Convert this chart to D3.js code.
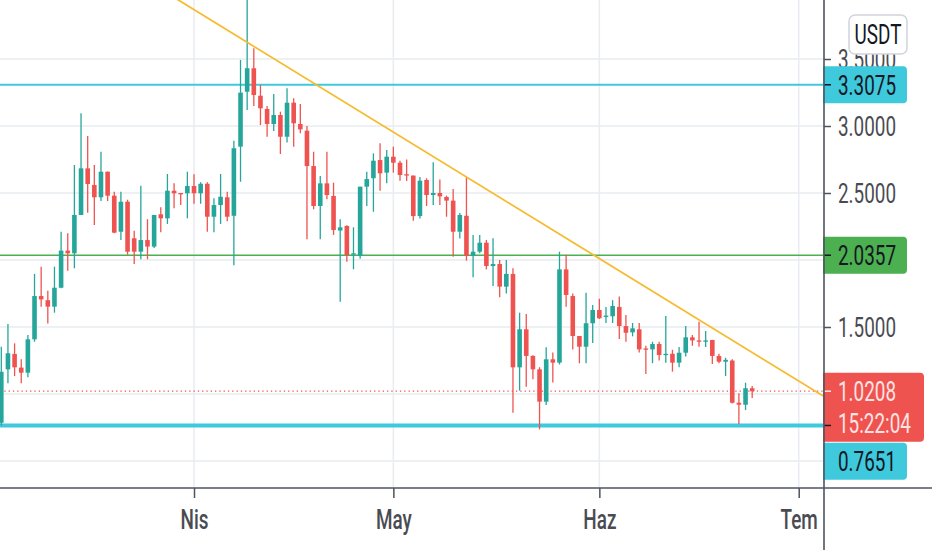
<!DOCTYPE html>
<html>
<head>
<meta charset="utf-8">
<script src="https://cdn.jsdelivr.net/npm/d3@7"></script>
<style>
  html, body { margin: 0; padding: 0; background: #fff; }
  svg { display: block; font-family: Roboto, 'Noto Sans', sans-serif; }
</style>
</head>
<body>
<div id="chart"></div>
<script>
// daily candles, first one on 3 March
const firstDay = '2021-03-03'
const opens = [0.785, 1.184, 1.299, 1.197, 1.159, 1.408, 1.731, 1.700, 1.652, 1.793,
  2.070, 2.050, 2.336, 2.684, 2.560, 2.468, 2.659, 2.480, 2.211, 2.435,
  2.162, 2.062, 2.149, 2.100, 2.341, 2.311, 2.517, 2.500, 2.498, 2.552,
  2.498, 2.569, 2.323, 2.410, 2.468, 2.330, 2.846, 3.256, 3.431, 3.226,
  3.127, 3.015, 3.082, 2.920, 3.174, 3.015, 2.965, 2.701, 2.403, 2.572,
  2.478, 2.220, 2.254, 2.040, 2.030, 2.547, 2.610, 2.746, 2.652, 2.771,
  2.726, 2.640, 2.630, 2.328, 2.597, 2.485, 2.500, 2.470, 2.443, 2.211,
  2.330, 2.030, 2.062, 2.129, 1.955, 1.970, 1.801, 1.896, 1.199, 1.483,
  1.284, 1.184, 0.943, 1.259, 1.234, 1.930, 1.731, 1.433, 1.353, 1.528,
  1.627, 1.575, 1.580, 1.650, 1.507, 1.460, 1.483, 1.340, 1.333, 1.373,
  1.290, 1.300, 1.234, 1.308, 1.423, 1.400, 1.390, 1.403, 1.284, 1.241,
  1.250, 0.935, 0.920, 1.043]
const highs = [1.353, 1.522, 1.378, 1.259, 1.440, 1.896, 1.950, 1.771, 1.950, 2.211,
  2.200, 2.709, 3.095, 2.925, 2.709, 2.808, 2.660, 2.510, 2.510, 2.450,
  2.219, 2.555, 2.304, 2.336, 2.393, 2.642, 2.572, 2.500, 2.659, 2.640,
  2.580, 2.580, 2.460, 2.642, 2.510, 2.890, 3.493, 3.950, 3.580, 3.306,
  3.149, 3.239, 3.107, 3.281, 3.207, 3.164, 3.000, 2.808, 2.627, 2.808,
  2.577, 2.304, 2.260, 2.244, 2.547, 2.659, 2.796, 2.871, 2.821, 2.846,
  2.740, 2.750, 2.630, 2.620, 2.610, 2.729, 2.600, 2.480, 2.530, 2.350,
  2.620, 2.187, 2.187, 2.150, 2.162, 2.000, 2.000, 1.938, 1.607, 1.597,
  1.290, 1.200, 1.349, 1.310, 2.062, 2.040, 1.750, 1.433, 1.756, 1.664,
  1.710, 1.650, 1.700, 1.727, 1.590, 1.530, 1.530, 1.360, 1.390, 1.390,
  1.582, 1.330, 1.350, 1.507, 1.440, 1.540, 1.470, 1.405, 1.300, 1.270,
  1.260, 1.005, 1.084, 1.060]
const lows = [0.765, 1.080, 1.134, 1.080, 1.125, 1.390, 1.652, 1.527, 1.607, 1.790,
  1.920, 1.938, 2.336, 2.353, 2.261, 2.440, 2.440, 2.200, 2.149, 2.040,
  1.970, 2.005, 2.005, 2.090, 2.207, 2.269, 2.386, 2.410, 2.311, 2.420,
  2.420, 2.211, 2.207, 2.269, 2.290, 1.960, 2.584, 3.119, 3.149, 3.007,
  2.920, 2.963, 2.791, 2.876, 2.846, 2.946, 2.154, 2.378, 2.154, 2.453,
  2.187, 1.689, 1.987, 1.931, 2.010, 2.403, 2.360, 2.517, 2.572, 2.652,
  2.592, 2.590, 2.293, 2.310, 2.403, 2.410, 2.410, 2.323, 2.025, 2.160,
  1.995, 1.871, 2.050, 1.930, 1.806, 1.722, 1.750, 0.860, 1.025, 1.054,
  1.110, 0.736, 0.918, 1.085, 1.220, 1.651, 1.333, 1.229, 1.230, 1.380,
  1.560, 1.530, 1.530, 1.410, 1.390, 1.430, 1.310, 1.149, 1.230, 1.250,
  1.233, 1.167, 1.200, 1.280, 1.360, 1.353, 1.350, 1.224, 1.230, 1.134,
  0.930, 0.776, 0.880, 0.970]
const closes = [1.166, 1.304, 1.199, 1.159, 1.408, 1.731, 1.706, 1.652, 1.793, 2.070,
  2.050, 2.336, 2.684, 2.567, 2.468, 2.659, 2.480, 2.204, 2.435, 2.062,
  2.062, 2.149, 2.100, 2.336, 2.311, 2.517, 2.498, 2.490, 2.552, 2.498,
  2.569, 2.323, 2.410, 2.472, 2.323, 2.834, 3.249, 3.431, 3.231, 3.132,
  3.015, 3.082, 2.920, 3.174, 3.020, 2.975, 2.701, 2.403, 2.572, 2.485,
  2.224, 2.244, 2.037, 2.050, 2.547, 2.604, 2.741, 2.647, 2.771, 2.726,
  2.634, 2.630, 2.328, 2.592, 2.485, 2.500, 2.475, 2.443, 2.211, 2.336,
  2.030, 2.062, 2.129, 1.955, 1.970, 1.801, 1.896, 1.199, 1.483, 1.284,
  1.184, 0.943, 1.259, 1.234, 1.930, 1.739, 1.433, 1.353, 1.528, 1.627,
  1.565, 1.585, 1.657, 1.507, 1.457, 1.490, 1.333, 1.330, 1.373, 1.291,
  1.300, 1.234, 1.308, 1.423, 1.400, 1.390, 1.400, 1.284, 1.241, 1.255,
  0.935, 0.920, 1.043, 1.0208]

const monthTicks = ['2021-04-01', '2021-05-01', '2021-06-01', '2021-07-01']
const monthNames = ['Nis', 'May', 'Haz', 'Tem']
const priceTicks = [0.5, 1.0, 1.5, 2.0, 2.5, 3.0, 3.5]
// horizontal levels drawn on the chart
const levelPrices = [3.3075, 2.0357, 0.7651]
const levelColors = ['#3fc9dd', '#4caf50', '#3fc9dd']
const levelWidths = [2, 1.5, 4]
const trendDates = ['2021-03-29', '2021-07-05']
const trendPrices = [3.96, 0.975]
const lastPrice = 1.0208
const countdown = '15:22:04'

const W = 932
const H = 550
const plotW = 824
const plotH = 488
const up = '#26a69a'
const down = '#ef5350'
const sx = 0.7 // narrow glyphs of the snapshot
const fmt = d3.format('.4f')

const parse = d3.utcParse('%Y-%m-%d')
const day0 = parse(firstDay)
const candles = opens.map((o, i) => ({
  date: d3.utcDay.offset(day0, i), o, h: highs[i], l: lows[i], c: closes[i]
}))

const x = d3.scaleUtc().domain([day0, parse('2021-07-01')]).range([1.3, 798.7])
const y = d3.scaleLinear().domain([1, 3]).range([394, 126])

// label boxes on the price axis, pushed down when they would overlap
const labels = [
  { price: levelPrices[0], fill: levelColors[0], text: '#131722', lines: [fmt(levelPrices[0])], w: 84 },
  { price: levelPrices[1], fill: levelColors[1], text: '#131722', lines: [fmt(levelPrices[1])], w: 84 },
  { price: lastPrice, fill: down, text: '#ffe3e3', lines: [fmt(lastPrice), countdown], w: 101 },
  { price: levelPrices[2], fill: levelColors[2], text: '#131722', lines: [fmt(levelPrices[2])], w: 84 }
]
let prevBottom = -Infinity
labels.forEach(lb => {
  lb.h = 37 + (lb.lines.length - 1) * 32
  lb.top = Math.max(y(lb.price) - 18.5, prevBottom + 1)
  prevBottom = lb.top + lb.h
})
const hidden = v => labels.some(lb => y(v) > lb.top - 4 && y(v) < lb.top + lb.h + 4)

const svg = d3.select('#chart').append('svg')
  .attr('width', W).attr('height', H)

svg.append('defs').append('clipPath').attr('id', 'plot')
  .append('rect').attr('width', plotW).attr('height', plotH)

// grid
svg.append('g').selectAll('line').data(priceTicks).join('line')
  .attr('x1', 0).attr('x2', plotW)
  .attr('y1', d => y(d)).attr('y2', d => y(d))
  .attr('stroke', '#e9ecf1').attr('stroke-width', 1.5)
svg.append('g').selectAll('line').data(monthTicks).join('line')
  .attr('x1', d => x(parse(d))).attr('x2', d => x(parse(d)))
  .attr('y1', 0).attr('y2', plotH)
  .attr('stroke', '#e9ecf1').attr('stroke-width', 1.5)

const plot = svg.append('g').attr('clip-path', 'url(#plot)')

// levels
plot.selectAll('.level').data(levelPrices).join('line')
  .attr('class', 'level')
  .attr('x1', 0).attr('x2', plotW)
  .attr('y1', d => y(d)).attr('y2', d => y(d))
  .attr('stroke', (d, i) => levelColors[i])
  .attr('stroke-width', (d, i) => levelWidths[i])

plot.append('line')
  .attr('x1', 0).attr('x2', plotW)
  .attr('y1', y(lastPrice)).attr('y2', y(lastPrice))
  .attr('stroke', down).attr('stroke-width', 1.3)
  .attr('stroke-dasharray', '1.3,3')

// candles
const cg = plot.append('g').selectAll('g').data(candles).join('g')
  .attr('transform', d => 'translate(' + x(d.date) + ',0)')
cg.append('line')
  .attr('y1', d => y(d.h)).attr('y2', d => y(d.l))
  .attr('stroke', d => d.c >= d.o ? up : down).attr('stroke-width', 1.3)
cg.append('rect')
  .attr('x', -2.3).attr('width', 4.6)
  .attr('y', d => y(Math.max(d.o, d.c)))
  .attr('height', d => Math.max(1.2, Math.abs(y(d.o) - y(d.c))))
  .attr('fill', d => d.c >= d.o ? up : down)

// trend line
plot.append('line')
  .attr('x1', x(parse(trendDates[0]))).attr('y1', y(trendPrices[0]))
  .attr('x2', x(parse(trendDates[1]))).attr('y2', y(trendPrices[1]))
  .attr('stroke', '#f6bb2e').attr('stroke-width', 1.8)

// time axis
const xAxis = d3.axisBottom(x)
  .tickValues(monthTicks.map(parse))
  .tickFormat((d, i) => monthNames[i])
  .tickSize(10).tickSizeOuter(0)
const xg = svg.append('g').attr('transform', 'translate(0,' + plotH + ')').call(xAxis)
xg.select('.domain').remove()
xg.selectAll('line').attr('stroke', '#50535e').attr('stroke-width', 1.5)
xg.selectAll('text')
  .attr('y', 41).attr('dy', 0)
  .attr('transform', 'scale(' + sx + ',1)')
  .attr('fill', '#4a4b52')
  .style('font-size', '27px').style('font-weight', 500)
  .style('font-family', 'Roboto')
svg.append('line')
  .attr('x1', 0).attr('x2', W).attr('y1', plotH).attr('y2', plotH)
  .attr('stroke', '#50535e').attr('stroke-width', 1.6)

// price axis, ticks under a label box are covered in the reference
const yAxis = d3.axisRight(y)
  .tickValues(priceTicks.filter(v => !hidden(v)))
  .tickFormat(fmt)
  .tickSize(7).tickSizeOuter(0)
const yg = svg.append('g').attr('transform', 'translate(' + plotW + ',0)').call(yAxis)
yg.select('.domain').remove()
yg.selectAll('line').attr('stroke', '#50535e').attr('stroke-width', 1.5)
yg.selectAll('text')
  .attr('x', 14 / sx).attr('dy', '0.36em')
  .attr('transform', 'scale(' + sx + ',1)')
  .attr('fill', '#4a4b52')
  .style('font-size', '27px').style('font-family', 'Roboto')

labels.forEach(lb => {
  const w = lb.w
  const h = lb.h
  const g = svg.append('g').attr('transform', 'translate(' + (plotW - 1) + ',' + lb.top + ')')
  g.append('path')
    .attr('d', 'M0,0 H' + (w - 4) + ' Q' + w + ',0 ' + w + ',4 V' + (h - 4) +
      ' Q' + w + ',' + h + ' ' + (w - 4) + ',' + h + ' H0 Z')
    .attr('fill', lb.fill)
  g.append('line')
    .attr('x1', 1).attr('x2', 8)
    .attr('y1', y(lb.price) - lb.top).attr('y2', y(lb.price) - lb.top)
    .attr('stroke', lb.text).attr('stroke-width', 1.5)
  lb.lines.forEach((t, k) => {
    g.append('text')
      .attr('transform', 'translate(15,' + (18.5 + k * 32) + ') scale(' + sx + ',1)')
      .attr('dy', '0.36em')
      .attr('fill', lb.text)
      .style('font-size', '27px').style('font-family', 'Roboto')
      .text(t)
  })
})

// currency badge
const badge = svg.append('g').attr('transform', 'translate(849,15)')
badge.append('rect')
  .attr('width', 58).attr('height', 39).attr('rx', 6)
  .attr('fill', '#fff').attr('stroke', '#d1d4dc').attr('stroke-width', 1.5)
badge.append('text')
  .attr('transform', 'translate(29,19.5) scale(' + sx + ',1)')
  .attr('text-anchor', 'middle').attr('dy', '0.36em')
  .attr('fill', '#131722')
  .style('font-size', '27px').style('font-family', 'Roboto')
  .text('USDT')

// axis divider
svg.append('line')
  .attr('x1', plotW).attr('x2', plotW).attr('y1', 0).attr('y2', H)
  .attr('stroke', '#50535e').attr('stroke-width', 1.6)
</script>
</body>
</html>
